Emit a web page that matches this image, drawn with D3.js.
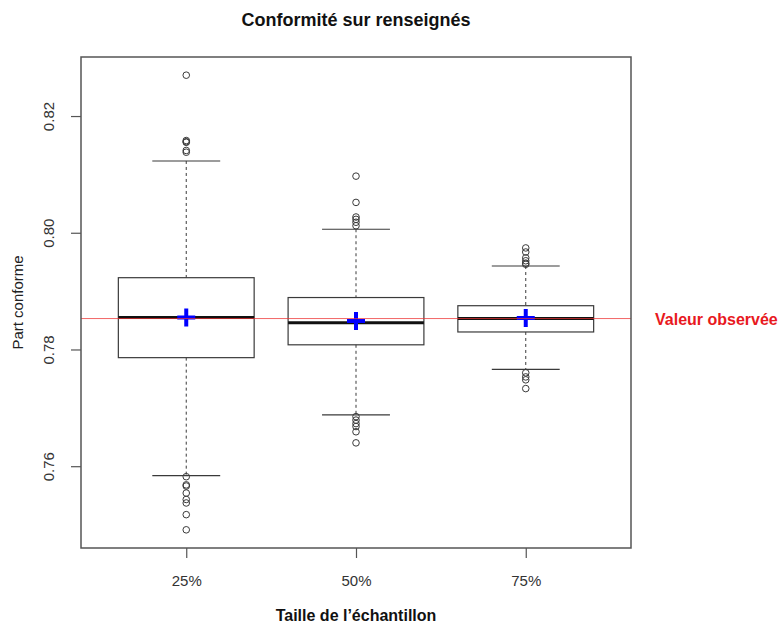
<!DOCTYPE html>
<html>
<head>
<meta charset="utf-8">
<script src="https://cdn.jsdelivr.net/npm/d3@7"></script>
<style>
  body { margin: 0; background: #fff; }
  svg { display: block; font-family: "Liberation Sans", Arial, sans-serif; }
</style>
</head>
<body>
<div id="chart"></div>
<script>
// Sample sizes (x categories)
const categories = ['25%', '50%', '75%'];

// Box stats per category
const whiskerLow  = [0.7584, 0.7688, 0.7766];
const q1          = [0.7786, 0.7808, 0.7830];
const medians     = [0.7855, 0.7846, 0.7853];
const q3          = [0.7923, 0.7889, 0.7875];
const whiskerHigh = [0.8123, 0.8006, 0.7943];
const means       = [0.7855, 0.7849, 0.7854];

// Outliers per category
const outliers = [
  [0.8270, 0.8158, 0.8156, 0.8155, 0.8141, 0.8138,
   0.7582, 0.7568, 0.7566, 0.7554, 0.7543, 0.7537, 0.7517, 0.7491],
  [0.8097, 0.8052, 0.8027, 0.8023, 0.8018, 0.8012,
   0.7685, 0.7679, 0.7673, 0.7668, 0.7659, 0.7640],
  [0.7974, 0.7967, 0.7957, 0.7952, 0.7948, 0.7946,
   0.7760, 0.7753, 0.7748, 0.7733]
];

// Observed value (red reference line)
const observed = 0.7853;
const yTicks = [0.76, 0.78, 0.80, 0.82];

const width = 782, height = 628;
const plot = { left: 81, right: 631, top: 57, bottom: 548 };

const svg = d3.select('#chart').append('svg')
  .attr('width', width)
  .attr('height', height);

// --- Scales (R style: 4% padding around data range) ---
const allVals = outliers.flat().concat(whiskerLow, whiskerHigh);
const [lo, hi] = d3.extent(allVals);
const pad = (hi - lo) * 0.04;

const x = d3.scalePoint()
  .domain(categories)
  .range([plot.left, plot.right])
  .padding(0.62);

const y = d3.scaleLinear()
  .domain([lo - pad, hi + pad])
  .range([plot.bottom, plot.top]);

const step = x.step();
const boxHalf = step * 0.4;
const stapleHalf = step * 0.2;
const ink = '#3a3a3a';

// --- Boxes ---
const data = categories.map((c, i) => ({
  cat: c,
  lo: whiskerLow[i], q1: q1[i], med: medians[i], q3: q3[i], hi: whiskerHigh[i],
  mean: means[i], out: outliers[i]
}));

const g = svg.append('g').attr('class', 'boxes');

const box = g.selectAll('g.box')
  .data(data)
  .join('g')
  .attr('class', 'box');

// dashed whiskers
box.append('line')
  .attr('x1', d => x(d.cat)).attr('x2', d => x(d.cat))
  .attr('y1', d => y(d.hi)).attr('y2', d => y(d.q3))
  .attr('stroke', ink).attr('stroke-width', 1).attr('stroke-dasharray', '3,3');
box.append('line')
  .attr('x1', d => x(d.cat)).attr('x2', d => x(d.cat))
  .attr('y1', d => y(d.q1)).attr('y2', d => y(d.lo))
  .attr('stroke', ink).attr('stroke-width', 1).attr('stroke-dasharray', '3,3');

// staples
box.selectAll('line.staple')
  .data(d => [d.lo, d.hi].map(v => ({ cat: d.cat, v })))
  .join('line')
  .attr('class', 'staple')
  .attr('x1', d => x(d.cat) - stapleHalf).attr('x2', d => x(d.cat) + stapleHalf)
  .attr('y1', d => y(d.v)).attr('y2', d => y(d.v))
  .attr('stroke', ink).attr('stroke-width', 1.2);

// box rect
box.append('rect')
  .attr('x', d => x(d.cat) - boxHalf)
  .attr('width', boxHalf * 2)
  .attr('y', d => y(d.q3))
  .attr('height', d => y(d.q1) - y(d.q3))
  .attr('fill', 'none')
  .attr('stroke', ink).attr('stroke-width', 1.2);

// median
box.append('line')
  .attr('x1', d => x(d.cat) - boxHalf).attr('x2', d => x(d.cat) + boxHalf)
  .attr('y1', d => y(d.med)).attr('y2', d => y(d.med))
  .attr('stroke', '#111').attr('stroke-width', 3);

// outliers
box.selectAll('circle')
  .data(d => d.out.map(v => ({ cat: d.cat, v })))
  .join('circle')
  .attr('cx', d => x(d.cat))
  .attr('cy', d => y(d.v))
  .attr('r', 3.3)
  .attr('fill', 'none')
  .attr('stroke', ink).attr('stroke-width', 1);

// --- Observed value line ---
svg.append('line')
  .attr('x1', plot.left).attr('x2', plot.right)
  .attr('y1', y(observed)).attr('y2', y(observed))
  .attr('stroke', '#ee3333').attr('stroke-width', 1).attr('stroke-opacity', 0.75);

svg.append('text')
  .attr('x', 655).attr('y', y(observed) + 6)
  .attr('fill', '#e8191e')
  .attr('font-size', 16).attr('font-weight', 'bold')
  .text('Valeur observée');

// --- Means (blue plus) ---
const arm = 9;
box.append('path')
  .attr('d', d => {
    const cx = x(d.cat), cy = y(d.mean);
    return `M${cx - arm},${cy}H${cx + arm}M${cx},${cy - arm}V${cy + arm}`;
  })
  .attr('stroke', '#0000ff').attr('stroke-width', 4).attr('fill', 'none');

// --- Frame ---
svg.append('rect')
  .attr('x', plot.left).attr('y', plot.top)
  .attr('width', plot.right - plot.left)
  .attr('height', plot.bottom - plot.top)
  .attr('fill', 'none')
  .attr('stroke', '#555').attr('stroke-width', 1.5);

// --- Axes ---
const xAxis = svg.append('g')
  .attr('transform', `translate(0, ${plot.bottom})`)
  .call(d3.axisBottom(x).tickSize(10).tickPadding(17));
xAxis.select('.domain').remove();
xAxis.selectAll('line').attr('stroke', '#555').attr('stroke-width', 1.2);
xAxis.selectAll('text')
  .attr('font-size', 15).attr('fill', '#333')
  .attr('font-family', '"Liberation Sans", Arial, sans-serif');

const yAxis = svg.append('g')
  .attr('transform', `translate(${plot.left}, 0)`)
  .call(d3.axisLeft(y).tickValues(yTicks).tickFormat(d3.format('.2f')).tickSize(10));
yAxis.select('.domain').remove();
yAxis.selectAll('line').attr('stroke', '#555').attr('stroke-width', 1.2);
yAxis.selectAll('text')
  .attr('font-size', 15).attr('fill', '#333')
  .attr('font-family', '"Liberation Sans", Arial, sans-serif')
  .attr('text-anchor', 'middle')
  .attr('x', 0).attr('dy', 0)
  .attr('transform', 'translate(-32, 0) rotate(-90)')
  .attr('y', 5);

// --- Titles ---
const midX = (plot.left + plot.right) / 2;
svg.append('text')
  .attr('x', midX).attr('y', 26)
  .attr('text-anchor', 'middle')
  .attr('font-size', 18).attr('font-weight', 'bold').attr('fill', '#111')
  .text('Conformité sur renseignés');

svg.append('text')
  .attr('x', midX).attr('y', 621)
  .attr('text-anchor', 'middle')
  .attr('font-size', 16).attr('font-weight', 'bold').attr('fill', '#111')
  .text('Taille de l’échantillon');

svg.append('text')
  .attr('transform', `translate(23, ${(plot.top + plot.bottom) / 2}) rotate(-90)`)
  .attr('text-anchor', 'middle')
  .attr('font-size', 15).attr('fill', '#222')
  .text('Part conforme');
</script>
</body>
</html>
